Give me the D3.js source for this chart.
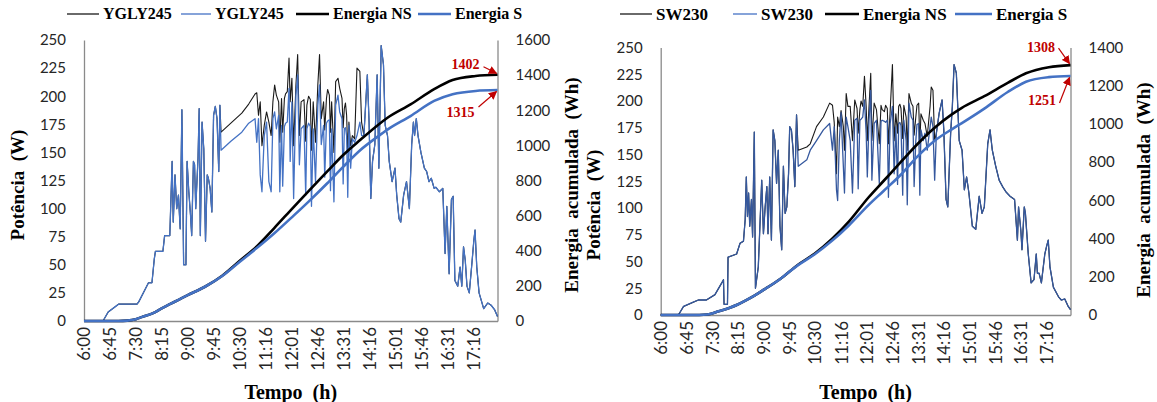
<!DOCTYPE html>
<html>
<head>
<meta charset="utf-8">
<script src="https://cdn.jsdelivr.net/npm/d3@7"></script>
<style>
  body { margin: 0; background: #fff; }
  svg { display: block; }
  .axis-title { white-space: pre; }
</style>
</head>
<body>
<svg id="chart" width="1157" height="402"></svg>
<script>
// ---- shared axis values ----
const timeLabels = ["6:00","6:45","7:30","8:15","9:00","9:45","10:30","11:16","12:01","12:46","13:31","14:16","15:01","15:46","16:31","17:16"];
const dayEndMin = 718;                       // last sample, minutes after 6:00
const powerTicks = [0,25,50,75,100,125,150,175,200,225,250];
const energyTicksYgly = [0,200,400,600,800,1000,1200,1400,1600];
const energyTicksSw = [0,200,400,600,800,1000,1200,1400];

// ---- YGLY245: instantaneous power (minutes after 6:00, W) ----
const yglyMinutes = [0,33,42,55,60,92,95,108,112,118,122,124,137,140,149,153,155,158,161,164,167,170,173,177,179,182,185,187,190,192,194,198,200,202,205,208,211,214,216,219,222,225,228,231,234,236,
  238,255,274,286,297,300,303,306,309,313,317,321,325,328,331,334,338,340,343,345,348,350,353,356,358,361,364,368,371,374,377,382,385,387,390,393,395,398,402,406,409,412,416,418,421,423,426,428,430,434,437,441,444,448,450,452,454,456,458,460,463,466,470,474,479,482,
  486,492,495,498,501,505,509,512,516,520,523,527,530,535,540,543,547,550,555,560,565,569,572,574,577,580,585,591,595,599,603,608,611,617,623,627,630,634,638,641,644,649,653,656,659,662,665,669,673,677,679,682,686,694,701,707,713,718];
const yglyPowerNS = [0,0,8,13,15,15,17,30,34,34,55,62,62,76,76,142,88,130,100,112,82,188,50,50,142,115,94,76,142,139,100,145,189,76,177,153,71,130,127,118,97,183,191,180,133,192,
  168,176,185,193,202,203,183,195,156,174,186,177,165,195,210,201,195,159,198,168,198,202,204,234,195,216,156,210,237,165,195,197,160,192,200,197,152,195,159,210,237,180,195,170,198,206,201,168,195,150,213,216,207,198,172,189,194,183,150,177,156,165,162,225,222,177,
  165,219,177,109,142,157,219,136,245,228,174,165,142,124,136,112,91,88,112,124,100,157,177,165,180,165,150,136,133,124,127,118,119,115,118,60,102,42,108,111,36,31,48,31,66,54,31,25,48,72,81,48,25,11,16,14,10,4];
const yglyPowerS = [0,0,8,13,15,15,17,30,34,34,55,62,62,76,76,142,88,130,100,112,82,188,50,50,142,115,94,76,142,139,100,145,189,76,177,153,71,130,127,118,97,183,191,180,133,192,
  152,160,168,176,180,159,180,130,115,165,177,124,115,180,186,171,183,115,174,120,173,176,177,207,142,195,109,201,219,139,171,174,112,171,176,173,102,171,124,192,210,157,174,128,176,178,179,116,171,106,192,201,186,180,122,171,172,165,110,174,136,162,159,165,177,165,
  165,219,177,109,142,157,219,136,245,228,174,165,142,124,136,112,91,88,112,124,100,157,177,165,180,165,150,136,133,124,127,118,119,115,118,60,102,42,108,111,36,31,48,31,66,54,31,25,48,72,81,48,25,11,16,14,10,4];

// ---- SW230: instantaneous power (minutes after 6:00, W) ----
const swMinutes = [0,31,40,57,66,80,95,107,110,111,117,118,133,139,145,148,150,152,154,156,159,161,164,166,168,171,177,180,183,186,188,191,194,197,200,203,206,209,212,215,218,221,224,226,229,232,235,238,
  241,256,262,273,285,296,301,304,308,310,313,316,320,322,325,328,332,336,340,344,346,349,351,354,357,360,362,365,368,370,374,378,383,386,388,392,394,397,399,402,406,409,412,415,417,419,421,424,426,430,432,435,439,442,444,447,449,452,454,456,460,463,467,472,474,477,480,
  483,488,493,496,500,503,508,511,514,518,523,528,532,536,540,546,552,558,563,567,573,577,581,587,593,599,605,612,620,625,627,631,633,637,639,644,649,654,658,660,663,667,673,676,679,682,688,697,702,708,714,718];
const swPowerNS = [0,0,8,12,14,14,19,30,33,10,10,54,57,67,69,89,129,92,114,83,108,73,171,25,33,45,126,76,101,120,76,129,70,173,163,123,154,83,61,139,95,101,132,176,173,154,120,187,
  154,157,160,176,185,198,196,180,132,185,176,191,176,154,207,195,195,163,201,193,170,192,200,195,223,195,163,195,226,163,198,192,160,196,192,190,196,193,160,190,234,163,188,170,195,197,193,165,196,185,154,207,198,195,168,185,196,198,160,188,182,179,167,195,213,210,163,
  170,189,201,173,108,101,170,195,234,226,163,154,117,129,114,83,80,111,95,101,160,173,154,139,126,120,115,111,108,70,101,79,61,101,95,57,30,33,57,39,39,30,57,64,70,45,26,17,14,15,8,5];
const swPowerS = [0,0,8,12,14,14,19,30,33,10,10,54,57,67,69,89,129,92,114,83,108,73,171,25,33,45,126,76,101,120,76,129,70,173,163,123,154,83,61,139,95,101,132,176,173,154,120,187,
  139,145,154,163,173,179,154,176,117,107,163,189,139,114,185,176,163,114,182,184,118,182,183,185,201,170,129,182,210,126,179,182,123,181,182,181,180,182,110,179,195,132,176,122,179,180,177,112,182,163,103,198,185,182,120,163,178,179,112,173,163,170,154,176,185,176,126,
  170,189,201,173,108,101,170,195,234,226,163,154,117,129,114,83,80,111,95,101,160,173,154,139,126,120,115,111,108,70,101,79,61,101,95,57,30,33,57,39,39,30,57,64,70,45,26,17,14,15,8,5];

// ---- accumulated energy (minutes after 6:00, Wh) ----
const energyMinutes = [0,60,75,90,100,120,135,150,165,180,210,240,270,300,330,364,390,422,450,480,510,527,567,608,640,680,718];
const yglyEnergyNS = [0,0,2,10,22,45,72,97,122,147,195,258,342,425,528,649,740,850,945,1032,1115,1157,1233,1320,1372,1395,1402];
const yglyEnergyS  = [0,0,2,10,22,45,72,97,122,147,195,256,336,415,498,600,680,783,878,974,1050,1090,1167,1253,1291,1310,1315];
const swEnergyNS   = [0,0,1,8,18,37,55,78,103,131,190,262,322,398,490,615,700,805,895,980,1050,1083,1145,1215,1265,1297,1308];
const swEnergyS    = [0,0,1,8,18,37,55,78,103,131,190,260,318,388,470,575,648,738,830,912,972,1003,1080,1167,1221,1245,1251];

const svg = d3.select("#chart");
const labelFont = "Lato, 'Liberation Sans', sans-serif";
const titleFont = "'Liberation Serif', 'Times New Roman', serif";
const red = "#C00000";

svg.append("defs").append("marker")
  .attr("id", "arrowRed").attr("viewBox", "0 0 10 10")
  .attr("refX", 9).attr("refY", 5)
  .attr("markerWidth", 7).attr("markerHeight", 7)
  .attr("orient", "auto-start-reverse")
  .append("path").attr("d", "M0,0 L10,5 L0,10 z").attr("fill", red);

function minutesOf(label) {
  const [h, m] = label.split(":").map(Number);
  return h * 60 + m - 360;
}

function drawPanel(p) {
  const x = d3.scaleLinear().domain([0, dayEndMin]).range([p.left, p.right]);
  const yP = d3.scaleLinear().domain([0, 250]).range([p.bottom, p.top]);
  const yE = d3.scaleLinear().domain([0, p.energyTicks[p.energyTicks.length - 1]]).range([p.bottom, p.top]);
  const g = svg.append("g");

  // axes
  const styleAxis = size => sel => {
    sel.select(".domain").attr("stroke", "#8a8a8a").attr("stroke-width", 1.3);
    sel.selectAll("text").attr("font-family", labelFont).attr("font-size", size).attr("fill", "#262626");
  };
  g.append("g").attr("transform", `translate(${p.left},0)`)
    .call(d3.axisLeft(yP).tickValues(powerTicks).tickFormat(d3.format("d")).tickSize(0).tickSizeOuter(0).tickPadding(18))
    .call(styleAxis(15));
  g.append("g").attr("transform", `translate(${p.right},0)`)
    .call(d3.axisRight(yE).tickValues(p.energyTicks).tickFormat(d3.format("d")).tickSize(0).tickSizeOuter(0).tickPadding(18))
    .call(styleAxis(15));
  const xAxis = g.append("g").attr("transform", `translate(0,${p.bottom})`)
    .call(d3.axisBottom(x).tickValues(timeLabels.map(minutesOf))
      .tickFormat((d, i) => timeLabels[i]).tickSize(0).tickSizeOuter(0))
    .call(styleAxis(17));
  xAxis.selectAll(".tick text")
    .attr("transform", "rotate(-90)")
    .attr("text-anchor", "end")
    .attr("x", -6).attr("y", 0).attr("dy", "0.35em");

  // axis titles
  const title = (txt, size) => g.append("text").attr("class", "axis-title").text(txt)
    .attr("text-anchor", "middle").attr("font-family", titleFont).attr("font-weight", "bold")
    .attr("font-size", size).attr("fill", "#000");
  title("Potência  (W)", 19)
    .attr("transform", `translate(${p.powerTitleX},${p.powerTitleY}) rotate(-90)`);
  title("Energia  acumulada  (Wh)", 19)
    .attr("transform", `translate(${p.energyTitleX},${p.energyTitleY}) rotate(-90)`);
  title("Tempo  (h)", 20)
    .attr("x", (p.left + p.right) / 2).attr("y", 399);

  // power series
  const powerLine = vals => d3.line().x((d, i) => x(p.minutes[i])).y(d => yP(d))(vals);
  g.append("path").attr("d", powerLine(p.powerNS))
    .attr("fill", "none").attr("stroke", "#1a1a1a").attr("stroke-width", 1.1).attr("stroke-linejoin", "round");
  g.append("path").attr("d", powerLine(p.powerS))
    .attr("fill", "none").attr("stroke", p.powerSColor).attr("stroke-width", 1.3).attr("stroke-linejoin", "round");

  // accumulated energy
  const energyLine = vals => d3.line().curve(d3.curveMonotoneX)
    .x((d, i) => x(energyMinutes[i])).y(d => yE(d))(vals);
  g.append("path").attr("d", energyLine(p.energyNS))
    .attr("fill", "none").attr("stroke", "#000").attr("stroke-width", 2.6);
  g.append("path").attr("d", energyLine(p.energyS))
    .attr("fill", "none").attr("stroke", "#4472C4").attr("stroke-width", 2.6);

  // end-of-day totals with arrows
  const endX = x(energyMinutes[energyMinutes.length - 1]);
  const note = (value, n) => {
    const ey = yE(value);
    g.append("text").text(value)
      .attr("x", endX + n.dx).attr("y", ey + n.dy)
      .attr("text-anchor", "middle").attr("font-family", titleFont).attr("font-weight", "bold")
      .attr("font-size", 14).attr("fill", red);
    g.append("line")
      .attr("x1", endX + n.ax).attr("y1", ey + n.ay)
      .attr("x2", endX - 1).attr("y2", ey + (n.ay > 0 ? 1.5 : -1.5))
      .attr("stroke", red).attr("stroke-width", 1.2).attr("marker-end", "url(#arrowRed)");
  };
  note(p.energyNS[p.energyNS.length - 1], p.noteNS);
  note(p.energyS[p.energyS.length - 1], p.noteS);

  // legend
  const lg = g.append("g").attr("transform", `translate(0,${p.legendY})`);
  p.legend.forEach(item => {
    lg.append("line").attr("x1", item.x).attr("x2", item.x + item.len).attr("y1", 0).attr("y2", 0)
      .attr("stroke", item.color).attr("stroke-width", item.width);
    lg.append("text").text(item.name).attr("x", item.x + item.len + 4).attr("y", 0).attr("dy", "0.33em")
      .attr("font-family", titleFont).attr("font-weight", "bold").attr("font-size", p.legendSize).attr("fill", "#000");
  });
}

drawPanel({
  left: 84, right: 497.5, top: 40, bottom: 321,
  energyTicks: energyTicksYgly,
  minutes: yglyMinutes, powerNS: yglyPowerNS, powerS: yglyPowerS, powerSColor: "#4472C4",
  energyNS: yglyEnergyNS, energyS: yglyEnergyS,
  noteNS: { dx: -32, dy: -6, ax: -14, ay: -8 },
  noteS: { dx: -37, dy: 27, ax: -19, ay: 17 },
  powerTitleX: 24, powerTitleY: 185, energyTitleX: 578, energyTitleY: 185,
  legendY: 14, legendSize: 16,
  legend: [
    { name: "YGLY245", x: 67, len: 32, color: "#1a1a1a", width: 1.3 },
    { name: "YGLY245", x: 181, len: 30, color: "#4472C4", width: 1.3 },
    { name: "Energia NS", x: 296, len: 33, color: "#000", width: 2.6 },
    { name: "Energia S", x: 418, len: 33, color: "#4472C4", width: 2.6 }
  ]
});

drawPanel({
  left: 660.7, right: 1070.5, top: 47.5, bottom: 315,
  energyTicks: energyTicksSw,
  minutes: swMinutes, powerNS: swPowerNS, powerS: swPowerS, powerSColor: "#35589E",
  energyNS: swEnergyNS, energyS: swEnergyS,
  noteNS: { dx: -29.5, dy: -13, ax: -12, ay: -17 },
  noteS: { dx: -28.5, dy: 29, ax: -11, ay: 27 },
  powerTitleX: 600, powerTitleY: 205, energyTitleX: 1150, energyTitleY: 190,
  legendY: 14, legendSize: 17,
  legend: [
    { name: "SW230", x: 620, len: 32, color: "#1a1a1a", width: 1.3 },
    { name: "SW230", x: 733, len: 24, color: "#4472C4", width: 1.3 },
    { name: "Energia NS", x: 825, len: 34, color: "#000", width: 2.6 },
    { name: "Energia S", x: 955, len: 37, color: "#4472C4", width: 2.6 }
  ]
});
</script>
</body>
</html>
